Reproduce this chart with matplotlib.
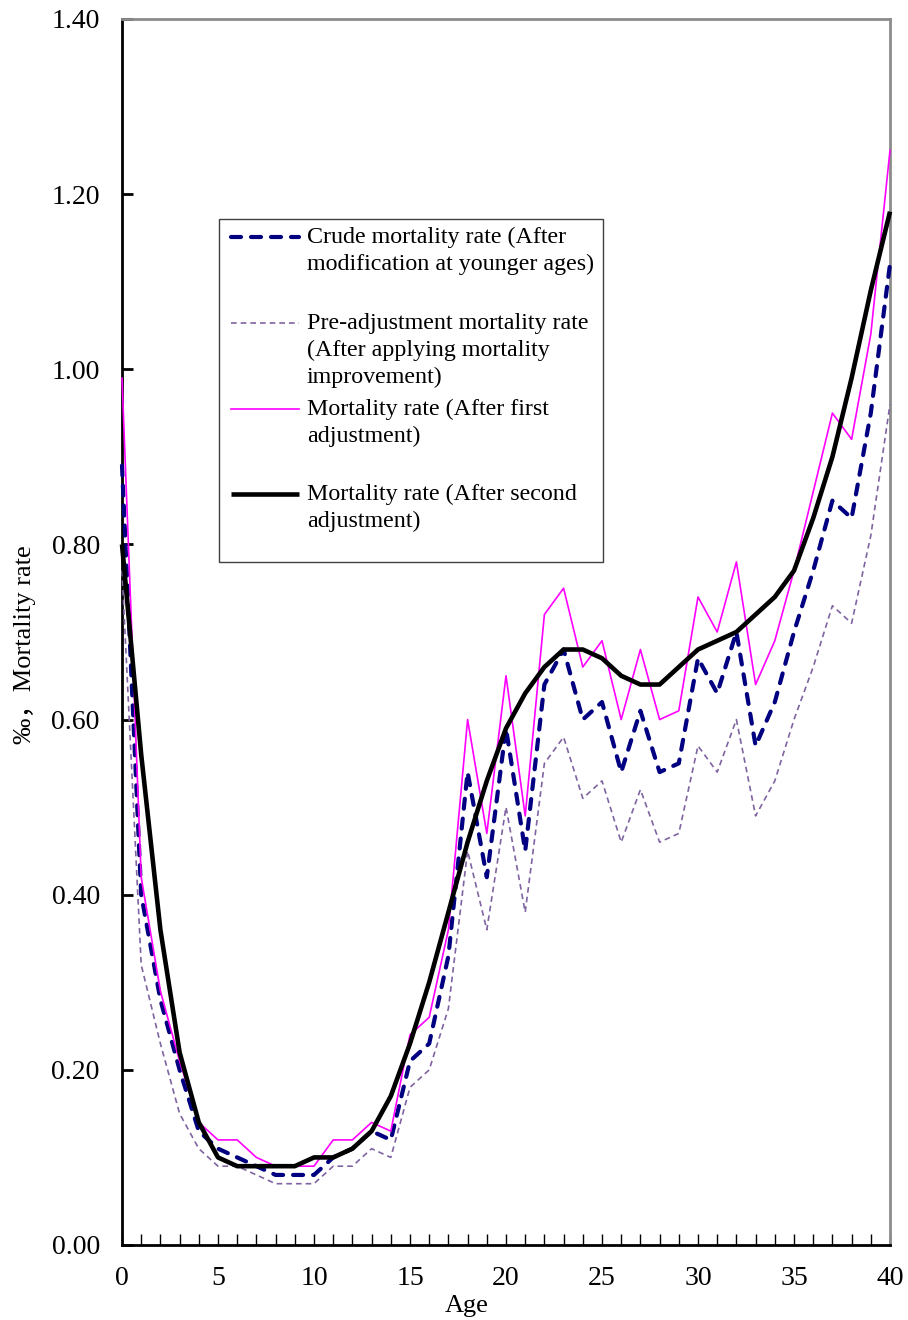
import matplotlib
matplotlib.use("Agg")
import matplotlib.pyplot as plt
from matplotlib.patches import Rectangle
from matplotlib.ticker import MultipleLocator, FormatStrFormatter

plt.rcParams['font.family'] = ['Liberation Serif', 'Noto Sans CJK SC', 'DejaVu Serif']

ages = list(range(0, 41))

crude = [0.89, 0.40, 0.28, 0.20, 0.13, 0.11, 0.10, 0.09, 0.08, 0.08,
         0.08, 0.10, 0.11, 0.13, 0.12, 0.21, 0.23, 0.33, 0.54, 0.42,
         0.59, 0.45, 0.64, 0.68, 0.60, 0.62, 0.54, 0.61, 0.54, 0.55,
         0.67, 0.63, 0.70, 0.57, 0.62, 0.70, 0.77, 0.85, 0.83, 0.95, 1.12]

pre_adjust = [0.77, 0.32, 0.23, 0.15, 0.11, 0.09, 0.09, 0.08, 0.07, 0.07,
              0.07, 0.09, 0.09, 0.11, 0.10, 0.18, 0.20, 0.27, 0.45, 0.36,
              0.50, 0.38, 0.55, 0.58, 0.51, 0.53, 0.46, 0.52, 0.46, 0.47,
              0.57, 0.54, 0.60, 0.49, 0.53, 0.60, 0.66, 0.73, 0.71, 0.81, 0.96]

first_adj = [0.99, 0.42, 0.29, 0.21, 0.14, 0.12, 0.12, 0.10, 0.09, 0.09,
             0.09, 0.12, 0.12, 0.14, 0.13, 0.24, 0.26, 0.36, 0.60, 0.47,
             0.65, 0.49, 0.72, 0.75, 0.66, 0.69, 0.60, 0.68, 0.60, 0.61,
             0.74, 0.70, 0.78, 0.64, 0.69, 0.77, 0.86, 0.95, 0.92, 1.04, 1.25]

second_adj = [0.80, 0.56, 0.36, 0.22, 0.14, 0.10, 0.09, 0.09, 0.09, 0.09,
              0.10, 0.10, 0.11, 0.13, 0.17, 0.23, 0.30, 0.38, 0.46, 0.53,
              0.59, 0.63, 0.66, 0.68, 0.68, 0.67, 0.65, 0.64, 0.64, 0.66,
              0.68, 0.69, 0.70, 0.72, 0.74, 0.77, 0.83, 0.90, 0.99, 1.09, 1.18]

legend_lines = [
    ["Crude mortality rate (After", "modification at younger ages)"],
    ["Pre-adjustment mortality rate", "(After applying mortality", "improvement)"],
    ["Mortality rate (After first", "adjustment)"],
    ["Mortality rate (After second", "adjustment)"],
]

styles = [
    dict(color='#000080', lw=3.0, dashes=(2.4, 2.4), dash_capstyle='round'),
    dict(color='#8064A2', lw=1.2, dashes=(3.4, 2.4)),
    dict(color='#FF00FF', lw=1.2),
    dict(color='black', lw=3.3, solid_capstyle='butt'),
]
series = [crude, pre_adjust, first_adj, second_adj]

fig = plt.figure(figsize=(9.08, 13.2), dpi=100)
ax = fig.add_axes([122 / 908, 1 - 1245 / 1320, 768 / 908, 1226 / 1320])

for s, st in zip(series, styles):
    ax.plot(ages, s, clip_on=False, zorder=3, **st)

ax.set_xlim(0, 40)
ax.set_ylim(0, 1.4)
ax.xaxis.set_major_locator(MultipleLocator(5))
ax.xaxis.set_minor_locator(MultipleLocator(1))
ax.yaxis.set_major_locator(MultipleLocator(0.2))
ax.yaxis.set_major_formatter(FormatStrFormatter('%.2f'))

ax.tick_params(axis='y', which='major', direction='in', length=8, width=2,
               labelsize=20, pad=16, right=False)
ax.tick_params(axis='x', which='both', direction='in', length=8, width=1,
               labelsize=20, pad=15, top=False)

for side in ['left', 'bottom']:
    ax.spines[side].set_color('black')
    ax.spines[side].set_linewidth(2)
for side in ['top', 'right']:
    ax.spines[side].set_color('#8C8C8C')
    ax.spines[side].set_linewidth(2)

ax.set_xlabel("Age", fontsize=19)
ax.xaxis.set_label_coords(0.449, -0.041)
ax.set_ylabel("‰，Mortality rate", fontsize=19)
ax.yaxis.set_label_coords(-0.112, 0.49)


# hand-built legend (handles sit on the first line of each label)
def fx(px):
    return (px - 122) / 768


def fy(py):
    return (1245 - py) / 1226


ax.add_patch(Rectangle((fx(219), fy(562)), fx(603) - fx(219), fy(219) - fy(562),
                       transform=ax.transAxes, fill=True, facecolor='white',
                       edgecolor='#404040', lw=1.0, clip_on=False, zorder=5))
line_rows = [[237, 264], [323, 350, 377], [409, 436], [494, 521]]
for st, rows, labels in zip(styles, line_rows, legend_lines):
    ax.plot([fx(231), fx(299)], [fy(rows[0]), fy(rows[0])], transform=ax.transAxes,
            clip_on=False, zorder=6, **st)
    for r, lab in zip(rows, labels):
        ax.text(fx(307), fy(r), lab, transform=ax.transAxes, fontsize=17.3,
                ha='left', va='center', zorder=6)

fig.savefig("out.png", dpi=100)
